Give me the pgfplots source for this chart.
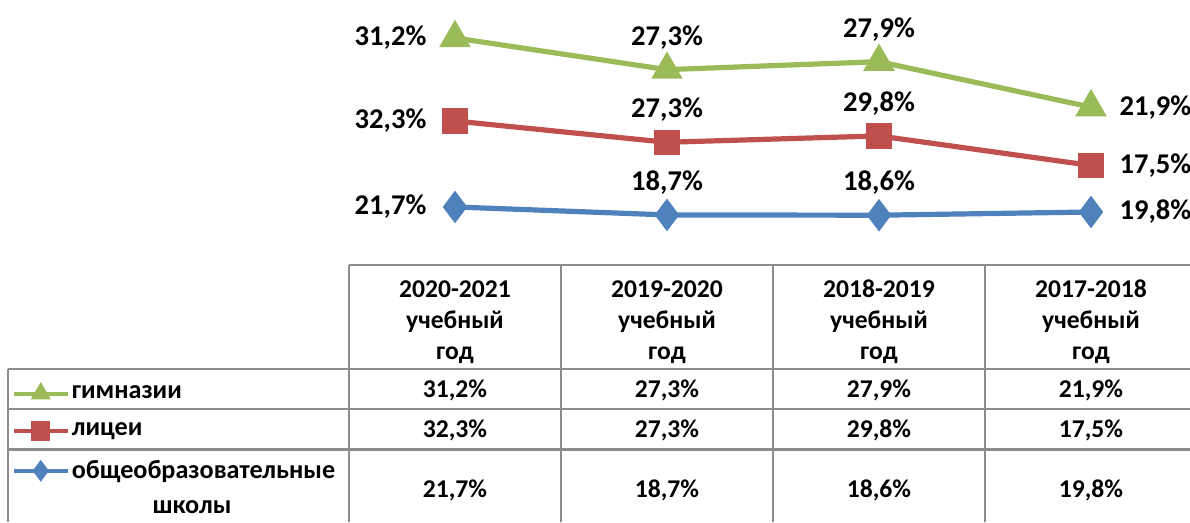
\documentclass[border=0pt]{standalone}
\usepackage{pgfplots}
\pgfplotsset{compat=1.18}
\usepackage{fontspec}
\setmainfont{Carlito}
\definecolor{sblue}{HTML}{4F81BD}
\definecolor{sred}{HTML}{C0504D}
\definecolor{sgreen}{HTML}{9BBB59}
\definecolor{tgrid}{HTML}{8C8C8C}

% category index (0 = 2020-2021 ... 3 = 2017-2018), share in %
\pgfplotstableread{
x v
0 21.7
1 18.7
2 18.6
3 19.8
}\schools
\pgfplotstableread{
x v
0 32.3
1 27.3
2 29.8
3 17.5
}\lyceums
\pgfplotstableread{
x v
0 31.2
1 27.3
2 27.9
3 21.9
}\gymnasiums

\newcommand{\tfont}{\fontsize{12.8}{15.5}\selectfont\bfseries}
\newcommand{\lfont}{\fontsize{13.1}{15.5}\selectfont\bfseries}

\begin{document}
\begin{tikzpicture}
\begin{axis}[
  name=ax,
  scale only axis, width=595pt, height=261pt,
  xmin=-2.146, xmax=3.467, ymin=-96.69, ymax=99.47,
  axis lines=none, clip=false,
  stack plots=y,
  point meta=explicit,
  nodes near coords={\pgfmathprintnumber[fixed,fixed zerofill,precision=1,use comma,assume math mode=true]{\pgfplotspointmeta}\%},
  every node near coord/.append style={font=\fontsize{14.3}{16}\selectfont\bfseries, text=black},
  coordinate style/.condition={x<0.5}{anchor=east, inner sep=13pt},
  coordinate style/.condition={x>0.5 && x<2.5}{anchor=south, inner sep=9pt},
  coordinate style/.condition={x>2.5}{anchor=west, inner sep=13pt},
  every axis plot/.append style={line width=2.6pt},
  reverse legend,
  legend image code/.code={\draw[#1,line width=2pt,mark size=3.8pt,mark repeat=2,mark phase=2]
    plot coordinates {(0pt,0pt) (13.5pt,0pt) (27pt,0pt)};},
  legend cell align=left,
  legend style={at={(0.0045,0.2735)}, anchor=north west, draw=none, fill=none,
    font=\lfont, row sep=8.7pt, column sep=0pt,
    nodes={inner sep=1pt}},
]
\addplot[sblue, mark=diamond*, mark size=6pt]
  table[x=x, y=v, meta=v] {\schools};
\addplot[sred, mark=square*, mark size=5pt]
  table[x=x, y=v, meta=v] {\lyceums};
\addplot[sgreen, mark=triangle*, mark size=6.5pt]
  table[x=x, y=v, meta=v] {\gymnasiums};
\legend{общеобразовательные, лицеи, гимназии}

% data table grid
\draw[tgrid, line width=1.2pt]
  (axis cs:-0.5,-0.1) -- (axis cs:3.467,-0.1)
  (axis cs:-2.108,-39.2) -- (axis cs:3.467,-39.2)
  (axis cs:-2.108,-54.2) -- (axis cs:3.467,-54.2)
  (axis cs:-2.108,-69.5) -- (axis cs:3.467,-69.5)
  (axis cs:-2.108,-39.2) -- (axis cs:-2.108,-96.69)
  (axis cs:-0.5,-0.1) -- (axis cs:-0.5,-96.69)
  (axis cs:0.5,-0.1) -- (axis cs:0.5,-96.69)
  (axis cs:1.5,-0.1) -- (axis cs:1.5,-96.69)
  (axis cs:2.5,-0.1) -- (axis cs:2.5,-96.69);

\node[font=\lfont] at (axis cs:-1.24,-91.2) {школы};

\node[font=\tfont, align=center] at (axis cs:0,-21.5) {2020-2021\\учебный\\год};
\node[font=\tfont, align=center] at (axis cs:1,-21.5) {2019-2020\\учебный\\год};
\node[font=\tfont, align=center] at (axis cs:2,-21.5) {2018-2019\\учебный\\год};
\node[font=\tfont, align=center] at (axis cs:3,-21.5) {2017-2018\\учебный\\год};

\node[font=\tfont] at (axis cs:0,-47.1) {31,2\%};
\node[font=\tfont] at (axis cs:1,-47.1) {27,3\%};
\node[font=\tfont] at (axis cs:2,-47.1) {27,9\%};
\node[font=\tfont] at (axis cs:3,-47.1) {21,9\%};
\node[font=\tfont] at (axis cs:0,-62.1) {32,3\%};
\node[font=\tfont] at (axis cs:1,-62.1) {27,3\%};
\node[font=\tfont] at (axis cs:2,-62.1) {29,8\%};
\node[font=\tfont] at (axis cs:3,-62.1) {17,5\%};
\node[font=\tfont] at (axis cs:0,-84.7) {21,7\%};
\node[font=\tfont] at (axis cs:1,-84.7) {18,7\%};
\node[font=\tfont] at (axis cs:2,-84.7) {18,6\%};
\node[font=\tfont] at (axis cs:3,-84.7) {19,8\%};
\end{axis}
\pgfresetboundingbox
\path[use as bounding box] (ax.south west) rectangle (ax.north east);
\end{tikzpicture}
\end{document}
